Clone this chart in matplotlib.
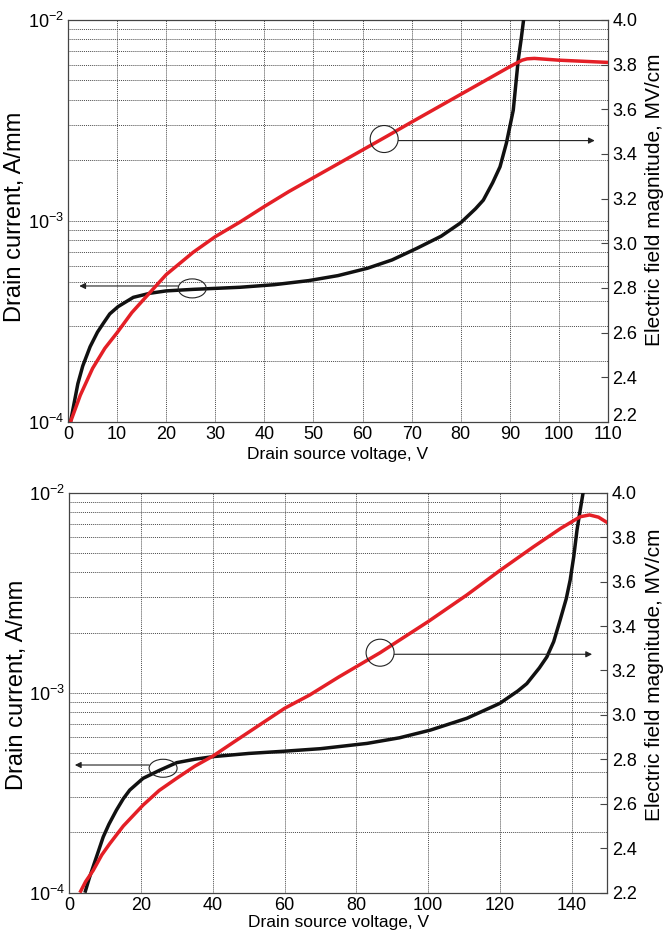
import matplotlib
matplotlib.use("Agg")
import matplotlib.pyplot as plt
from matplotlib.patches import Ellipse
from matplotlib.transforms import ScaledTranslation
from matplotlib.ticker import FixedLocator, FixedFormatter, NullFormatter, LogLocator

plt.rcParams['font.family'] = ['Liberation Sans', 'DejaVu Sans']
plt.rcParams['mathtext.default'] = 'regular'

# ---------------- data: top panel ----------------
top_v_black = [0.5, 2, 3, 4.5, 6, 7.2, 8.5, 10.2, 13.3, 16.7, 20, 25.5, 35, 42, 49, 55, 61, 66,
               71, 76, 80, 83, 84.6, 86.5, 88, 89.3, 90.7, 91.7, 92.3, 92.8]
top_i_black = [1.0e-4, 1.55e-4, 1.9e-4, 2.37e-4, 2.8e-4, 3.1e-4, 3.45e-4, 3.75e-4, 4.17e-4, 4.37e-4,
               4.49e-4, 4.57e-4, 4.68e-4, 4.82e-4, 5.05e-4, 5.35e-4, 5.82e-4, 6.4e-4, 7.3e-4, 8.4e-4,
               9.8e-4, 1.15e-3, 1.27e-3, 1.55e-3, 1.86e-3, 2.44e-3, 3.56e-3, 6.3e-3, 8.0e-3, 1.0e-2]
top_v_red = [0.5, 2.5, 5, 7.5, 10, 13, 16.7, 20, 25.5, 30, 35, 40, 45, 50, 55, 60, 65, 70, 75,
             80, 85, 90, 92.5, 93.5, 95, 100, 105, 110]
top_e_red = [2.20, 2.32, 2.44, 2.53, 2.60, 2.69, 2.78, 2.86, 2.96, 3.03, 3.095, 3.165, 3.232, 3.294,
             3.356, 3.418, 3.48, 3.543, 3.605, 3.667, 3.729, 3.791, 3.82, 3.826, 3.828, 3.82, 3.815,
             3.81]

# ---------------- data: bottom panel ----------------
bot_v_black = [4.3, 5.5, 6.6, 8, 9.4, 11, 13.1, 15, 16.8, 20.5, 25.2, 29.9, 35, 40, 50, 60, 70, 83,
               92, 100.6, 110.8, 120, 125, 127.5, 131, 133.1, 135, 136.8, 138.5, 139.6, 140.6,
               141.5, 142.4, 143.2]
bot_i_black = [1.0e-4, 1.18e-4, 1.35e-4, 1.6e-4, 1.9e-4, 2.2e-4, 2.59e-4, 2.95e-4, 3.26e-4, 3.73e-4,
               4.1e-4, 4.47e-4, 4.65e-4, 4.79e-4, 4.97e-4, 5.1e-4, 5.25e-4, 5.58e-4, 5.95e-4, 6.5e-4,
               7.45e-4, 8.85e-4, 1.02e-3, 1.11e-3, 1.33e-3, 1.51e-3, 1.8e-3, 2.31e-3, 2.95e-3,
               3.66e-3, 4.8e-3, 6.5e-3, 8.2e-3, 1.0e-2]
bot_v_red = [2.9, 4.5, 6.6, 9, 11.2, 15, 20.5, 25, 29.9, 35, 40, 46, 53, 60, 67, 75, 86.6, 100,
             110.8, 120, 129.4, 137, 142.4, 145, 147.5, 150]
bot_e_red = [2.20, 2.25, 2.30, 2.37, 2.42, 2.50, 2.594, 2.66, 2.715, 2.77, 2.815, 2.88, 2.955, 3.03,
             3.09, 3.17, 3.28, 3.42, 3.54, 3.65, 3.757, 3.84, 3.892, 3.90, 3.89, 3.865]

# tick labels
top_xticks = [0, 10, 20, 30, 40, 50, 60, 70, 80, 90, 100, 110]
bot_xticks = [0, 20, 40, 60, 80, 100, 120, 140]
left_ticks = [1e-4, 1e-3, 1e-2]
left_labels = [r'$10^{-4}$', r'$10^{-3}$', r'$10^{-2}$']
right_ticks = [2.2, 2.4, 2.6, 2.8, 3.0, 3.2, 3.4, 3.6, 3.8, 4.0]
right_labels = ['2.2', '2.4', '2.6', '2.8', '3.0', '3.2', '3.4', '3.6', '3.8', '4.0']

xlabel_text = 'Drain source voltage, V'
ylabel_left = 'Drain current, A/mm'
ylabel_right = 'Electric field magnitude, MV/cm'

# annotation markers: (ellipse centre x, y), arrow tail, arrow tip
top_left_ann = dict(center=(25.3, 4.62e-4), tail=(22.4, 4.75e-4), tip=(2.3, 4.75e-4))
top_right_ann = dict(center=(64.4, 3.467), tail=(67.3, 3.46), tip=(107.3, 3.46))
bot_left_ann = dict(center=(26.1, 4.19e-4), tail=(22.2, 4.35e-4), tip=(1.5, 4.35e-4))
bot_right_ann = dict(center=(86.6, 3.28), tail=(90.6, 3.273), tip=(145.7, 3.273))

RED = '#e41f26'
BLACK = '#111111'
GRIDC = '#4a4a4a'
FS = 13

fig = plt.figure(figsize=(6.65, 9.38), dpi=100)


def add_ellipse(axis, xy, w_px, h_px):
    bb = axis.get_window_extent()
    cx, cy = axis.transAxes.inverted().transform(axis.transData.transform(xy))
    axis.add_patch(Ellipse((cx, cy), w_px / bb.width, h_px / bb.height, transform=axis.transAxes,
                           fill=False, lw=0.8, ec='#222222', zorder=6, clip_on=False))


def add_arrow(axis, tail, tip):
    axis.annotate('', xy=tip, xytext=tail,
                  arrowprops=dict(arrowstyle='-|>', lw=0.8, color='#222222', shrinkA=0, shrinkB=0,
                                  mutation_scale=9), zorder=6)


def panel(rect, xmax, xticks, vb, ib, vr, er, ann_l, ann_r, hl, hr, xl_y, yl_y, yr_y, lift_first):
    ax = fig.add_axes(rect)
    ax.set_yscale('log')
    ax.set_xlim(0, xmax)
    ax.set_ylim(1e-4, 1e-2)
    ax.set_xticks(xticks)
    ax.set_xticklabels([str(t) for t in xticks], fontsize=FS)
    ax.yaxis.set_major_locator(FixedLocator(left_ticks))
    ax.yaxis.set_major_formatter(FixedFormatter(left_labels))
    ax.yaxis.set_minor_locator(LogLocator(base=10, subs=range(2, 10)))
    ax.yaxis.set_minor_formatter(NullFormatter())
    ax.tick_params(axis='y', which='both', length=0, labelsize=FS, pad=3)
    ax.tick_params(axis='x', length=0, labelsize=FS, pad=3)
    ax.grid(True, axis='x', which='major', color=GRIDC, lw=0.7, ls=(0, (1, 1)))
    ax.grid(True, axis='y', which='both', color=GRIDC, lw=0.7, ls=(0, (1, 1)))
    for s in ax.spines.values():
        s.set_color('#444444')
        s.set_linewidth(0.9)
    ax.plot(vb, ib, color=BLACK, lw=2.5, zorder=4, solid_capstyle='butt')
    ax.set_xlabel(xlabel_text, fontsize=12.5, va='top')
    ax.xaxis.set_label_coords(0.5, xl_y)
    ax.set_ylabel(ylabel_left, fontsize=17, va='center')
    ax.yaxis.set_label_coords(-0.098, yl_y)

    ax2 = ax.twinx()
    ax2.set_ylim(2.2, 4.0)
    ax2.yaxis.set_major_locator(FixedLocator(right_ticks))
    ax2.yaxis.set_major_formatter(FixedFormatter(right_labels))
    ax2.tick_params(axis='y', direction='in', length=5, width=0.8, color='#444444',
                    labelsize=FS, pad=3)
    for s in ax2.spines.values():
        s.set_visible(False)
    ax2.plot(vr, er, color=RED, lw=2.5, zorder=5, solid_capstyle='butt')
    ax2.set_ylabel(ylabel_right, fontsize=15, va='center')
    ax2.yaxis.set_label_coords(1.087, yr_y)

    if lift_first:
        fig.canvas.draw()
        first = ax2.yaxis.get_major_ticks()[0].label2
        first.set_transform(first.get_transform() + ScaledTranslation(0, 8 / 100, fig.dpi_scale_trans))

    add_ellipse(ax, ann_l['center'], 28, hl)
    add_arrow(ax, ann_l['tail'], ann_l['tip'])
    add_ellipse(ax2, ann_r['center'], 28, hr)
    add_arrow(ax2, ann_r['tail'], ann_r['tip'])
    return ax, ax2


panel([0.1023, 0.5501, 0.812, 0.4286], 110, top_xticks, top_v_black, top_i_black,
      top_v_red, top_e_red, top_left_ann, top_right_ann, 19, 27, -0.062, 0.51, 0.552, True)
panel([0.1045, 0.0483, 0.809, 0.4264], 150, bot_xticks, bot_v_black, bot_i_black,
      bot_v_red, bot_e_red, bot_left_ann, bot_right_ann, 18, 27, -0.055, 0.52, 0.544, False)

fig.savefig('out.png', dpi=100)
